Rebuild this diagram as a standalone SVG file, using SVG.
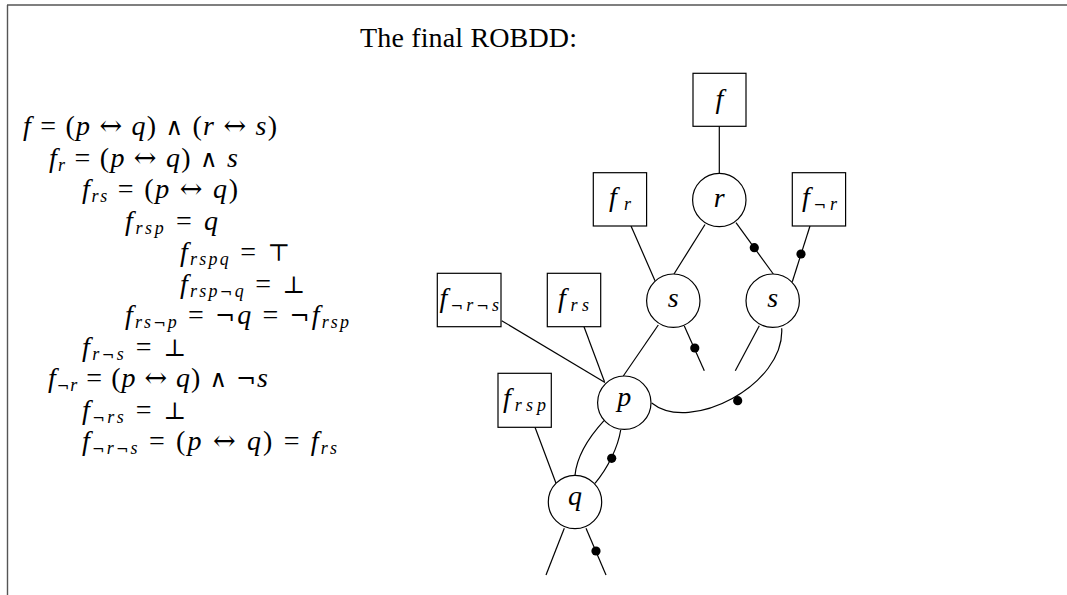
<svg xmlns="http://www.w3.org/2000/svg" width="1067" height="595" viewBox="0 0 1067 595">
<style>
text{font-family:"Liberation Serif","DejaVu Serif",serif;font-size:28px;fill:#000}
.i{font-style:italic}
.sb{font-size:18px;font-style:italic}
.a{font-family:"DejaVu Serif",serif;font-style:normal;font-size:27px}
.y{font-family:"DejaVu Serif",serif;font-style:normal;font-size:24px}
.ys{font-family:"DejaVu Serif",serif;font-style:normal;font-size:15px}
.box{fill:#fff;stroke:#000;stroke-width:1.2}
.nd{fill:#fff;stroke:#000;stroke-width:1.2}
.e{fill:none;stroke:#000;stroke-width:1.2}
.dot{fill:#000}
.frame{fill:none;stroke:#555;stroke-width:1.4}
</style>
<rect width="1067" height="595" fill="#fff"/>
<path class="frame" d="M7,5 H1067 M7.5,5 V595"/>
<text x="360" y="47" textLength="217" lengthAdjust="spacing">The final ROBDD:</text>

<g id="derivation">
<text x="23" y="135" textLength="254" lengthAdjust="spacing"><tspan class="i">f</tspan> = (<tspan class="i">p</tspan> <tspan class="a">↔</tspan> <tspan class="i">q</tspan>) <tspan class="y">∧</tspan> (<tspan class="i">r</tspan> <tspan class="a">↔</tspan> <tspan class="i">s</tspan>)</text>
<text x="49" y="166.5" textLength="189" lengthAdjust="spacing"><tspan class="i">f</tspan><tspan class="sb" dy="4">r</tspan><tspan dy="-4"> = (</tspan><tspan class="i">p</tspan> <tspan class="a">↔</tspan> <tspan class="i">q</tspan>) <tspan class="y">∧</tspan> <tspan class="i">s</tspan></text>
<text x="82" y="198" textLength="156" lengthAdjust="spacing"><tspan class="i">f</tspan><tspan class="sb" dy="4">rs</tspan><tspan dy="-4"> = (</tspan><tspan class="i">p</tspan> <tspan class="a">↔</tspan> <tspan class="i">q</tspan>)</text>
<text x="125" y="229.5" textLength="93" lengthAdjust="spacing"><tspan class="i">f</tspan><tspan class="sb" dy="4">rsp</tspan><tspan dy="-4"> = </tspan><tspan class="i">q</tspan></text>
<text x="180" y="261" textLength="110" lengthAdjust="spacing"><tspan class="i">f</tspan><tspan class="sb" dy="4">rspq</tspan><tspan dy="-4"> = </tspan><tspan class="y">⊤</tspan></text>
<text x="180" y="292.5" textLength="125" lengthAdjust="spacing"><tspan class="i">f</tspan><tspan class="sb" dy="4">rsp<tspan class="ys">¬</tspan>q</tspan><tspan dy="-4"> = </tspan><tspan class="y">⊥</tspan></text>
<text x="125" y="324" textLength="224" lengthAdjust="spacing"><tspan class="i">f</tspan><tspan class="sb" dy="4">rs<tspan class="ys">¬</tspan>p</tspan><tspan dy="-4"> = </tspan><tspan class="y">¬</tspan><tspan class="i">q</tspan> = <tspan class="y">¬</tspan><tspan class="i">f</tspan><tspan class="sb" dy="4">rsp</tspan></text>
<text x="82" y="355.5" textLength="104" lengthAdjust="spacing"><tspan class="i">f</tspan><tspan class="sb" dy="4">r<tspan class="ys">¬</tspan>s</tspan><tspan dy="-4"> = </tspan><tspan class="y">⊥</tspan></text>
<text x="48" y="387" textLength="220" lengthAdjust="spacing"><tspan class="i">f</tspan><tspan class="sb" dy="4"><tspan class="ys">¬</tspan>r</tspan><tspan dy="-4"> = (</tspan><tspan class="i">p</tspan> <tspan class="a">↔</tspan> <tspan class="i">q</tspan>) <tspan class="y">∧</tspan> <tspan class="y">¬</tspan><tspan class="i">s</tspan></text>
<text x="82" y="418.5" textLength="104" lengthAdjust="spacing"><tspan class="i">f</tspan><tspan class="sb" dy="4"><tspan class="ys">¬</tspan>rs</tspan><tspan dy="-4"> = </tspan><tspan class="y">⊥</tspan></text>
<text x="82" y="450" textLength="255" lengthAdjust="spacing"><tspan class="i">f</tspan><tspan class="sb" dy="4"><tspan class="ys">¬</tspan>r<tspan class="ys">¬</tspan>s</tspan><tspan dy="-4"> = (</tspan><tspan class="i">p</tspan> <tspan class="a">↔</tspan> <tspan class="i">q</tspan>) = <tspan class="i">f</tspan><tspan class="sb" dy="4">rs</tspan></text>
</g>

<g id="connectors">
<line class="e" x1="719.3" y1="126" x2="719.3" y2="173.3"/>
<line class="e" x1="705" y1="224.5" x2="674" y2="274"/>
<line class="e" x1="736" y1="222.7" x2="773.3" y2="274"/>
<circle class="dot" cx="754.3" cy="247.7" r="4.6"/>
<line class="e" x1="631" y1="226" x2="655" y2="280.7"/>
<line class="e" x1="810" y1="226" x2="792.3" y2="281.7"/>
<circle class="dot" cx="801" cy="254" r="4.6"/>
<line class="e" x1="684.3" y1="326" x2="704.3" y2="370.7"/>
<circle class="dot" cx="694.8" cy="348" r="4.6"/>
<line class="e" x1="658.3" y1="325" x2="623.3" y2="376"/>
<line class="e" x1="759.3" y1="325.7" x2="735.3" y2="370.7"/>
<path class="e" d="M781.7,328.3 C785,385 690,434 651.7,403"/>
<circle class="dot" cx="737.7" cy="400.7" r="4.6"/>
<line class="e" x1="501.7" y1="320.7" x2="605" y2="382.5"/>
<line class="e" x1="584" y1="326.7" x2="604.5" y2="381.7"/>
<line class="e" x1="535" y1="427.3" x2="556" y2="483.3"/>
<path class="e" d="M604,420.7 C590,436 577,455 575,475.3"/>
<path class="e" d="M620.7,430 C618,447 608,468 595,483.3"/>
<circle class="dot" cx="611.7" cy="458.3" r="4.6"/>
<line class="e" x1="564.3" y1="528.3" x2="546" y2="575"/>
<line class="e" x1="586" y1="528.3" x2="606" y2="575"/>
<circle class="dot" cx="596" cy="551" r="4.6"/>
</g>

<g id="node-f"><rect class="box" x="693" y="73.3" width="53" height="53"/><text class="i" x="719.5" y="108" text-anchor="middle">f</text></g>
<g id="node-r"><circle class="nd" cx="719.3" cy="200" r="26.7"/><text class="i" x="719.3" y="207" text-anchor="middle">r</text></g>
<g id="node-fr"><rect class="box" x="593.3" y="172.7" width="53.3" height="53.3"/><text x="609" y="206" textLength="22" lengthAdjust="spacing"><tspan class="i">f</tspan><tspan class="sb" dy="4">r</tspan></text></g>
<g id="node-fnr"><rect class="box" x="792.3" y="172.7" width="53.3" height="53.3"/><text x="802" y="206" textLength="35" lengthAdjust="spacing"><tspan class="i">f</tspan><tspan class="sb" dy="4"><tspan class="ys">¬</tspan>r</tspan></text></g>
<g id="node-s1"><circle class="nd" cx="673.3" cy="300.7" r="26.7"/><text class="i" x="673.3" y="307" text-anchor="middle">s</text></g>
<g id="node-s2"><circle class="nd" cx="772.7" cy="300.7" r="26.7"/><text class="i" x="772.7" y="307" text-anchor="middle">s</text></g>
<g id="node-fnrns"><rect class="box" x="437.3" y="273.3" width="63.7" height="53.4"/><text x="439.5" y="307" textLength="59.5" lengthAdjust="spacing"><tspan class="i">f</tspan><tspan class="sb" dy="4"><tspan class="ys">¬</tspan>r<tspan class="ys">¬</tspan>s</tspan></text></g>
<g id="node-frs"><rect class="box" x="547.3" y="273.3" width="53.4" height="53.4"/><text x="558" y="307" textLength="31" lengthAdjust="spacing"><tspan class="i">f</tspan><tspan class="sb" dy="4">rs</tspan></text></g>
<g id="node-p"><circle class="nd" cx="624.3" cy="402.7" r="26.7"/><text class="i" x="624.3" y="405.5" text-anchor="middle">p</text></g>
<g id="node-frsp"><rect class="box" x="498" y="373.3" width="53.3" height="54"/><text x="503" y="407" textLength="43" lengthAdjust="spacing"><tspan class="i">f</tspan><tspan class="sb" dy="4">rsp</tspan></text></g>
<g id="node-q"><circle class="nd" cx="575" cy="502" r="26.7"/><text class="i" x="575" y="505" text-anchor="middle">q</text></g>
</svg>
